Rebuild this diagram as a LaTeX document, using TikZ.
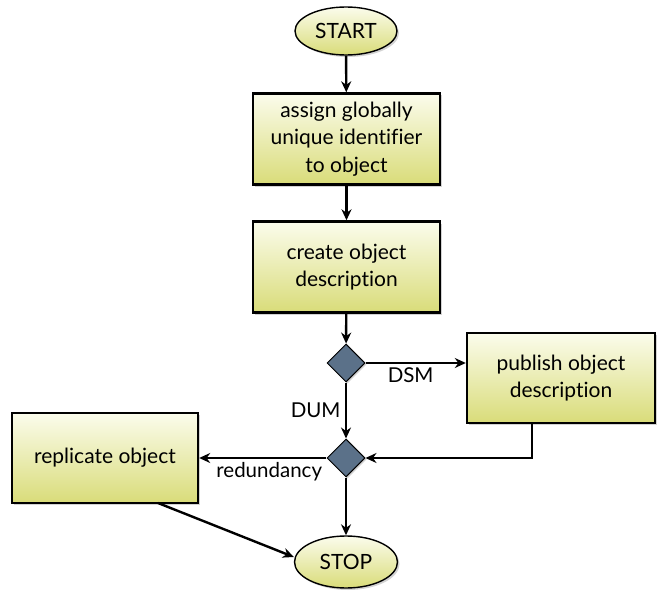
\documentclass[tikz,border=0pt]{standalone}
\usepackage{fontspec}
\setmainfont[Ligatures={CommonOff,ContextualOff}]{Lato}
\usetikzlibrary{shapes.geometric,shadows,arrows.meta}
\definecolor{boxtop}{HTML}{FBFCEC}
\definecolor{boxbot}{HTML}{D9DC79}
\definecolor{diam}{HTML}{5B7189}
\tikzset{
  procbox/.style={draw=black, line width=2.4pt, rectangle, minimum width=187pt, minimum height=91pt,
    top color=boxtop, bottom color=boxbot, align=center, font=\fontsize{21}{27.5}\selectfont,
    drop shadow={shadow xshift=2pt, shadow yshift=-2pt, opacity=0.35}},
  term/.style={draw=black, line width=1.4pt, ellipse, minimum width=102pt, minimum height=48pt, inner sep=0pt,
    top color=boxtop, bottom color=boxbot, font=\fontsize{21}{24}\selectfont,
    drop shadow={shadow xshift=2pt, shadow yshift=-2pt, opacity=0.35}},
  decision/.style={draw=black, line width=1pt, diamond, minimum width=38pt, minimum height=38pt, inner sep=0pt,
    fill=diam, drop shadow={shadow xshift=1.5pt, shadow yshift=-1.5pt, opacity=0.35}},
  conn/.style={line width=2.4pt, -{Stealth[length=11pt,width=10pt]}},
  lbl/.style={font=\fontsize{20.5}{23}\selectfont}
}
\begin{document}
\begin{tikzpicture}[x=1pt,y=-1pt]
\useasboundingbox (0,0) rectangle (665,594);
\node[term] (start) at (346,31) {START};
\node[procbox] (assign) at (346.5,139) {assign globally\\unique identifier\\to object};
\node[procbox] (create) at (346.5,267) {create object\\description};
\node[decision] (d1) at (346,363) {};
\node[procbox, minimum width=188pt, minimum height=90pt] (publish) at (561,378) {publish object\\description};
\node[decision] (d2) at (346,458) {};
\node[procbox, minimum width=186pt, minimum height=90pt] (replicate) at (105,458) {replicate object};
\node[term, minimum width=103pt, minimum height=52pt] (stop) at (346,562) {STOP};
\coordinate (pc) at (532,458);
\coordinate (rs) at (158,503);

\draw[conn] (start) -- (assign);
\draw[conn] (assign) -- (create);
\draw[conn] (create) -- (d1);
\draw[conn] (d1) -- node[lbl, below, pos=0.45, yshift=0pt] {DSM} (publish.west |- d1);
\draw[conn] (d1) -- node[lbl, left, pos=0.5, xshift=-1pt] {DUM} (d2);
\draw[conn] (publish.south -| pc) -- (pc) -- (d2.east);
\draw[conn] (d2) -- node[lbl, below, pos=0.45, yshift=0pt] {redundancy} (replicate.east |- d2);
\draw[conn] (d2) -- (stop);
\draw[conn] (rs) -- (stop.west |- 0,557);
\end{tikzpicture}
\end{document}
